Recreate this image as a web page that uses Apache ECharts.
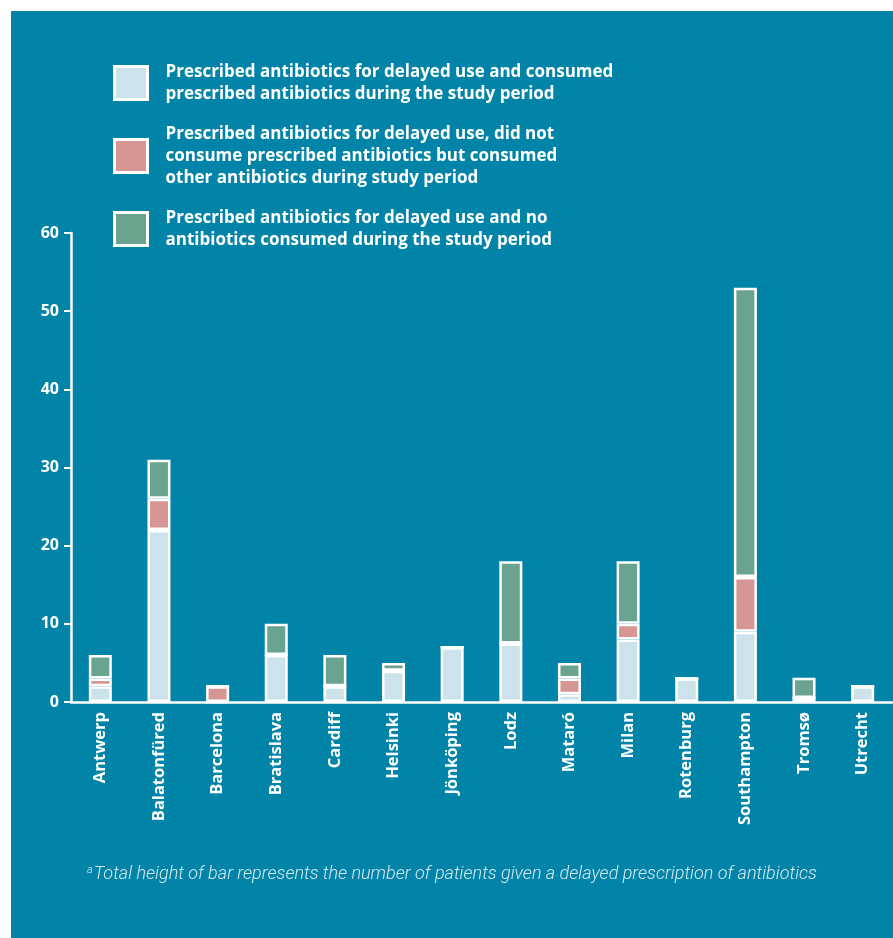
<!DOCTYPE html>
<html>
<head>
<meta charset="utf-8">
<script src="https://cdn.jsdelivr.net/npm/echarts@6/dist/echarts.min.js"></script>
<style>
  html, body { margin: 0; padding: 0; background: #ffffff; }
  #chart { position: absolute; left: 11px; top: 11px; width: 882px; height: 927px; }
</style>
</head>
<body>
<div id="chart"></div>
<script>
const BG = "#0284a8";
const LIGHT = "#cde3ec";
const PINK = "#d59694";
const GREEN = "#6aa48f";

const cities = ["Antwerp", "Balatonfüred", "Barcelona", "Bratislava", "Cardiff", "Helsinki", "Jönköping",
  "Lodz", "Mataró", "Milan", "Rotenburg", "Southampton", "Tromsø", "Utrecht"];
// consumed the prescribed antibiotics
const consumedPrescribed = [2, 22, 0, 6, 2, 4, 7, 7.5, 1, 8, 3, 9, 0.5, 2];
// did not consume prescribed, but consumed other antibiotics
const consumedOther = [1, 4, 2, 0, 0, 0, 0, 0, 2, 2, 0, 7, 0, 0];
// no antibiotics consumed
const noneConsumed = [3, 5, 0, 4, 4, 1, 0, 10.5, 2, 8, 0, 37, 2.6, 0];

const seriesNames = [
  "Prescribed antibiotics for delayed use and consumed\nprescribed antibiotics during the study period",
  "Prescribed antibiotics for delayed use, did not\nconsume prescribed antibiotics but consumed\nother antibiotics during study period",
  "Prescribed antibiotics for delayed use and no\nantibiotics consumed during the study period",
];
const yTicks = { min: 0, max: 60, interval: 10 };
const footnote = "Total height of bar represents the number of patients given a delayed prescription of antibiotics";

const chart = echarts.init(document.getElementById("chart"));
const FONT = "Open Sans";

const barStyle = (color) => ({ color: color, borderColor: "#ffffff", borderWidth: 2.5 });

const options = {
  backgroundColor: BG,
  animation: false,
  textStyle: { fontFamily: FONT },
  title: {
    text: "{sup|a}{t|" + footnote + "}",
    left: "center",
    top: 849,
    textStyle: {
      rich: {
        sup: { fontSize: 11, color: "#d6e9f0", fontFamily: "Roboto", fontStyle: "italic", fontWeight: 300, verticalAlign: "top", padding: [0, 1, 8, 0] },
        t: { fontSize: 18, color: "#d6e9f0", fontFamily: "Roboto", fontStyle: "italic", fontWeight: 300 },
      },
    },
  },
  legend: {
    orient: "vertical",
    left: 97,
    top: 45,
    itemWidth: 59,
    itemHeight: 33,
    itemGap: 18,
    icon: "path://M0,0L10,0L10,10L0,10Z",
    itemStyle: { borderColor: "#ffffff", borderWidth: 3 },
    textStyle: { color: "#ffffff", fontSize: 17, fontWeight: "bold", fontFamily: FONT, lineHeight: 22 },
    selectedMode: false,
    data: seriesNames,
  },
  grid: { left: 60, right: 1, top: 222, bottom: 236, containLabel: false },
  xAxis: {
    type: "category",
    data: cities,
    axisLine: { lineStyle: { color: "#ffffff", width: 2.5 } },
    axisTick: { interval: 0, length: 7, lineStyle: { color: "#ffffff", width: 2 } },
    axisLabel: { interval: 0, rotate: 90, margin: 10, color: "#ffffff", fontSize: 16.5, fontWeight: "bold", fontFamily: FONT },
  },
  yAxis: {
    type: "value",
    min: yTicks.min,
    max: yTicks.max,
    interval: yTicks.interval,
    splitLine: { show: false },
    axisLine: { show: true, lineStyle: { color: "#ffffff", width: 2.5 } },
    axisTick: { show: true, length: 7, lineStyle: { color: "#ffffff", width: 2 } },
    axisLabel: { margin: 12, color: "#ffffff", fontSize: 16, fontWeight: "bold", fontFamily: FONT },
  },
  series: [
    { name: seriesNames[0], type: "bar", stack: "total", barWidth: 23, data: consumedPrescribed, itemStyle: barStyle(LIGHT) },
    { name: seriesNames[1], type: "bar", stack: "total", barWidth: 23, data: consumedOther, itemStyle: barStyle(PINK) },
    { name: seriesNames[2], type: "bar", stack: "total", barWidth: 23, data: noneConsumed, itemStyle: barStyle(GREEN) },
  ],
};

chart.setOption(options);
</script>
</body>
</html>
